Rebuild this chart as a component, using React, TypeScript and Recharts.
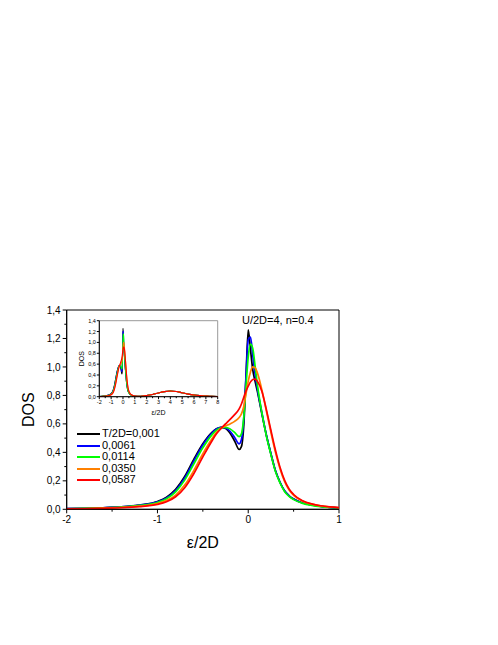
import React from 'react';
import { LineChart, Line, XAxis, YAxis, ReferenceArea, Legend } from 'recharts';

// energy grid (eps/2D) for the low-energy band
const energy = [
  -2, -1.8, -1.6, -1.4, -1.2, -1.0, -0.9, -0.8, -0.7, -0.6,
  -0.5, -0.4, -0.35, -0.3, -0.25, -0.2, -0.15, -0.1, -0.075, -0.05,
  -0.025, 0, 0.025, 0.05, 0.075, 0.1, 0.15, 0.2, 0.25, 0.3,
  0.35, 0.4, 0.45, 0.5, 0.6, 0.7, 0.8, 0.9, 1.0,
];

const dosT0001 = [
  0.004, 0.007, 0.011, 0.017, 0.03, 0.055, 0.085, 0.14, 0.23, 0.35,
  0.46, 0.54, 0.565, 0.575, 0.568, 0.535, 0.48, 0.42, 0.44, 0.58,
  0.92, 1.26, 1.12, 0.98, 0.9, 0.83, 0.67, 0.52, 0.39, 0.27,
  0.19, 0.13, 0.095, 0.072, 0.044, 0.03, 0.02, 0.014, 0.01,
];
const dosT0061 = [
  0.004, 0.007, 0.011, 0.017, 0.029, 0.052, 0.08, 0.132, 0.22, 0.338,
  0.452, 0.536, 0.564, 0.576, 0.572, 0.548, 0.505, 0.46, 0.49, 0.63,
  0.93, 1.19, 1.21, 1.08, 0.95, 0.85, 0.68, 0.52, 0.39, 0.27,
  0.19, 0.13, 0.095, 0.072, 0.044, 0.03, 0.02, 0.014, 0.01,
];
const dosT0114 = [
  0.004, 0.006, 0.01, 0.016, 0.027, 0.048, 0.074, 0.122, 0.205, 0.318,
  0.432, 0.523, 0.556, 0.573, 0.576, 0.565, 0.54, 0.51, 0.53, 0.64,
  0.86, 1.07, 1.16, 1.13, 1.01, 0.88, 0.68, 0.515, 0.385, 0.265,
  0.185, 0.125, 0.09, 0.068, 0.042, 0.028, 0.019, 0.013, 0.009,
];
const dosT0350 = [
  0.003, 0.005, 0.008, 0.013, 0.022, 0.04, 0.061, 0.1, 0.17, 0.272,
  0.39, 0.495, 0.54, 0.568, 0.585, 0.6, 0.618, 0.645, 0.67, 0.72,
  0.81, 0.9, 0.965, 1.0, 0.995, 0.96, 0.84, 0.69, 0.54, 0.4,
  0.285, 0.195, 0.135, 0.098, 0.057, 0.036, 0.024, 0.016, 0.011,
];
const dosT0587 = [
  0.003, 0.004, 0.007, 0.011, 0.019, 0.035, 0.053, 0.088, 0.152, 0.25,
  0.368, 0.48, 0.53, 0.568, 0.6, 0.632, 0.665, 0.705, 0.74, 0.785,
  0.83, 0.865, 0.895, 0.912, 0.915, 0.9, 0.83, 0.7, 0.555, 0.415,
  0.295, 0.205, 0.143, 0.104, 0.06, 0.038, 0.025, 0.017, 0.012,
];

// upper Hubbard band, only seen in the inset (curves overlap there)
const upperEnergy = [1.25, 1.5, 2, 2.5, 3, 3.5, 4, 4.5, 5, 5.5, 6, 6.5, 7, 7.5, 8];
const upperDos = [0.008, 0.009, 0.022, 0.042, 0.068, 0.093, 0.105, 0.095, 0.072, 0.048, 0.03, 0.019, 0.012, 0.006, 0.003];

const seriesKeys = ['t1', 't2', 't3', 't4', 't5'];
const seriesNames = ['T/2D=0,001', '0,0061', '0,0114', '0,0350', '0,0587'];
const seriesColors = ['#000000', '#0000ff', '#00ff00', '#ff8000', '#ff0000'];
const seriesValues = [dosT0001, dosT0061, dosT0114, dosT0350, dosT0587];

const mainXTicks = [-2, -1.5, -1, -0.5, 0, 0.5, 1];
const mainYTicks = [0, 0.1, 0.2, 0.3, 0.4, 0.5, 0.6, 0.7, 0.8, 0.9, 1.0, 1.1, 1.2, 1.3, 1.4];
const insetXTicks = [-2, -1.5, -1, -0.5, 0, 0.5, 1, 1.5, 2, 2.5, 3, 3.5, 4, 4.5, 5, 5.5, 6, 6.5, 7, 7.5, 8];
const insetYTicks = [0, 0.2, 0.4, 0.6, 0.8, 1.0, 1.2, 1.4];

const mainData = energy.map((x, i) => {
  const row: any = { x };
  seriesKeys.forEach((k, s) => { row[k] = seriesValues[s][i]; });
  return row;
});

const insetData = [
  ...mainData,
  ...upperEnergy.map((x, i) => {
    const row: any = { x };
    seriesKeys.forEach((k) => { row[k] = upperDos[i]; });
    return row;
  }),
];

const comma = (v: number) => v.toFixed(1).replace('.', ',');
const onStep = (v: number, step: number) => Math.abs(v / step - Math.round(v / step)) < 1e-6;

// tickSize/tickMargin are 0 so x,y here sit on the axis line
const XTick = ({ x, y, payload, len, fontSize, gap }: any) => {
  const v = payload.value;
  const major = onStep(v, 1);
  return (
    <g>
      <line x1={x} x2={x} y1={y} y2={y + (major ? len : len * 0.6)} stroke="#000" />
      {major && (
        <text x={x} y={y + len + gap + fontSize * 0.72} textAnchor="middle" fontSize={fontSize} fill="#000">
          {String(v)}
        </text>
      )}
    </g>
  );
};

const YTick = ({ x, y, payload, len, fontSize, gap }: any) => {
  const v = payload.value;
  const major = onStep(v, 0.2);
  return (
    <g>
      <line x1={x} x2={x - (major ? len : len * 0.6)} y1={y} y2={y} stroke="#000" />
      {major && (
        <text x={x - len - gap} y={y + fontSize * 0.36} textAnchor="end" fontSize={fontSize} fill="#000">
          {comma(v)}
        </text>
      )}
    </g>
  );
};

// keep the legend in series order (recharts sorts by name otherwise)
const renderLegend = (props: any) => {
  const payload = [...(props.payload || [])].sort(
    (a: any, b: any) => seriesNames.indexOf(a.value) - seriesNames.indexOf(b.value)
  );
  return (
    <div>
      {payload.map((entry: any) => (
        <div key={entry.value} style={{ display: 'flex', alignItems: 'center', height: 11.5 }}>
          <svg width={25} height={4} style={{ display: 'block' }}>
            <line x1={0} x2={23} y1={2} y2={2} stroke={entry.color} strokeWidth={2} />
          </svg>
          <span style={{ fontSize: 11, lineHeight: '11.5px', color: '#000' }}>{entry.value}</span>
        </div>
      ))}
    </div>
  );
};

export default function App() {
  return (
    <div style={{ position: 'absolute', left: 0, top: 0, width: 498, height: 645, background: '#fff', fontFamily: '"Liberation Sans", Arial, sans-serif' }}>
      <div style={{ position: 'absolute', left: 0, top: 290 }}>
        <LineChart width={350} height={280} data={mainData} margin={{ top: 20, right: 11, bottom: 35.7, left: 16.7 }}>
          <XAxis
            dataKey="x"
            type="number"
            domain={[-2, 1]}
            ticks={mainXTicks}
            interval={0}
            height={25}
            tickSize={0}
            tickMargin={0}
            tickLine={false}
            axisLine={{ stroke: '#000' }}
            tick={<XTick len={4} gap={2} fontSize={10} />}
            label={{ value: 'ε/2D', position: 'bottom', offset: 2, fontSize: 16, fill: '#000' }}
          />
          <YAxis
            type="number"
            domain={[0, 1.4]}
            ticks={mainYTicks}
            interval={0}
            width={50}
            tickSize={0}
            tickMargin={0}
            tickLine={false}
            axisLine={{ stroke: '#000' }}
            tick={<YTick len={4} gap={2} fontSize={10} />}
            label={{ value: 'DOS', angle: -90, position: 'insideLeft', offset: 12, fontSize: 16, fill: '#000', style: { textAnchor: 'middle' } }}
          />
          <ReferenceArea x1={-2} x2={1} y1={0} y2={1.4} fill="none" stroke="#000" strokeWidth={1} />
          {seriesKeys.map((k, i) => (
            <Line
              key={k}
              dataKey={k}
              name={seriesNames[i]}
              type="monotone"
              stroke={seriesColors[i]}
              strokeWidth={1.7}
              dot={false}
              isAnimationActive={false}
            />
          ))}
          <Legend
            layout="vertical"
            align="center"
            verticalAlign="middle"
            content={renderLegend}
            wrapperStyle={{ left: 77, top: 138.25, width: 'auto', height: 'auto' }}
          />
        </LineChart>
      </div>

      <div style={{ position: 'absolute', left: 242, top: 313.5, fontSize: 11, lineHeight: '13px', color: '#000', whiteSpace: 'nowrap' }}>
        U/2D=4, n=0.4
      </div>

      <div style={{ position: 'absolute', left: 60, top: 315 }}>
        <LineChart width={165} height={105} data={insetData} margin={{ top: 5.7, right: 7.3, bottom: 11.3, left: 9.3 }}>
          <XAxis
            dataKey="x"
            type="number"
            domain={[-2, 8]}
            ticks={insetXTicks}
            interval={0}
            height={12}
            tickSize={0}
            tickMargin={0}
            tickLine={false}
            axisLine={{ stroke: '#000' }}
            tick={<XTick len={2.5} gap={1} fontSize={5.5} />}
            label={{ value: 'ε/2D', position: 'bottom', offset: 1.5, fontSize: 7, fill: '#000' }}
          />
          <YAxis
            type="number"
            domain={[0, 1.4]}
            ticks={insetYTicks}
            interval={0}
            width={30}
            tickSize={0}
            tickMargin={0}
            tickLine={false}
            axisLine={{ stroke: '#000' }}
            tick={<YTick len={2.5} gap={1} fontSize={5.5} />}
            label={{ value: 'DOS', angle: -90, position: 'insideLeft', offset: 12, fontSize: 7, fill: '#000', style: { textAnchor: 'middle' } }}
          />
          <ReferenceArea x1={-2} x2={8} y1={0} y2={1.4} fill="none" stroke="#999" strokeWidth={1} />
          {seriesKeys.map((k, i) => (
            <Line
              key={k}
              dataKey={k}
              type="monotone"
              stroke={seriesColors[i]}
              strokeWidth={1.1}
              dot={false}
              isAnimationActive={false}
            />
          ))}
        </LineChart>
      </div>
    </div>
  );
}
